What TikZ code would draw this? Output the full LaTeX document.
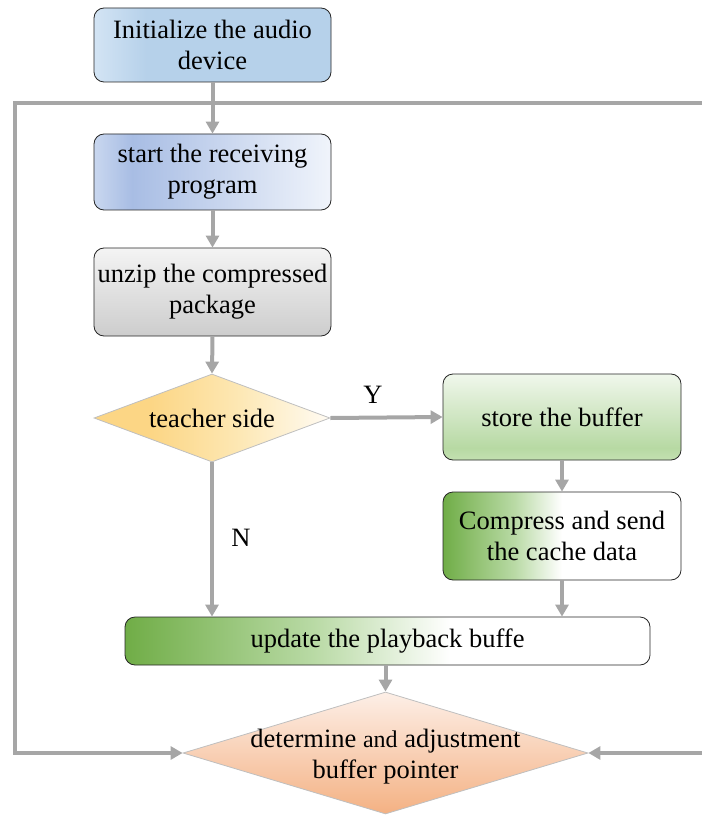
\documentclass[tikz,border=0pt]{standalone}
\usepackage{fontspec}
\newfontfamily\tnr{Liberation Serif}
\usetikzlibrary{arrows.meta,shapes.geometric}
\definecolor{ln}{HTML}{A6A6A6}
\definecolor{ia}{HTML}{D3E4F4}
\definecolor{ib}{HTML}{B6D1EA}
\definecolor{sa}{HTML}{C9D7EF}
\definecolor{sb}{HTML}{A8BDE4}
\definecolor{sc}{HTML}{F0F4FB}
\definecolor{ua}{HTML}{CDCDCD}
\definecolor{ub}{HTML}{E4E4E4}
\definecolor{uc}{HTML}{F4F4F4}
\definecolor{ta}{HTML}{FCD685}
\definecolor{tb}{HTML}{FDE7B2}
\definecolor{tc}{HTML}{FFFBF3}
\definecolor{ga}{HTML}{C3E0B1}
\definecolor{gb}{HTML}{B7D9A3}
\definecolor{gc}{HTML}{F0F7EC}
\definecolor{gr}{HTML}{70AD47}
\definecolor{gm}{HTML}{B9DAA5}
\definecolor{oa}{HTML}{F4B183}
\definecolor{ob}{HTML}{FDEFE7}
\pgfdeclarehorizontalshading{initsh}{100bp}{color(0bp)=(ia); color(25bp)=(ia); color(36bp)=(ib); color(100bp)=(ib)}
\pgfdeclarehorizontalshading{startsh}{100bp}{color(0bp)=(sa); color(25bp)=(sa); color(33bp)=(sb); color(75bp)=(sc); color(100bp)=(sc)}
\pgfdeclareverticalshading{unzipsh}{100bp}{color(0bp)=(ua); color(25bp)=(ua); color(55bp)=(ub); color(75bp)=(uc); color(100bp)=(uc)}
\pgfdeclarehorizontalshading{teachsh}{100bp}{color(0bp)=(ta); color(25bp)=(ta); color(37bp)=(ta); color(55bp)=(tb); color(75bp)=(tc); color(100bp)=(tc)}
\pgfdeclareverticalshading{storesh}{100bp}{color(0bp)=(ga); color(25bp)=(ga); color(32bp)=(gb); color(75bp)=(gc); color(100bp)=(gc)}
\pgfdeclarehorizontalshading{compsh}{100bp}{color(0bp)=(gr); color(25bp)=(gr); color(40bp)=(gm); color(50bp)=(white); color(100bp)=(white)}
\pgfdeclarehorizontalshading{updsh}{100bp}{color(0bp)=(gr); color(25bp)=(gr); color(43bp)=(gm); color(56bp)=(white); color(100bp)=(white)}
\pgfdeclareverticalshading{botsh}{100bp}{color(0bp)=(oa); color(25bp)=(oa); color(75bp)=(ob); color(100bp)=(ob)}
\tikzset{
  box/.style={draw=black!85, line width=0.8pt, rounded corners=10pt, align=center,
    inner sep=0pt, minimum width=237pt},
  dia/.style={diamond, draw=black!25, line width=0.8pt, inner sep=0pt, aspect=1},
  txt/.style={align=center, inner sep=0pt},
  flow/.style={draw=ln, line width=4pt, -{Triangle[length=12pt,width=13pt]}},
}
\begin{document}
\begin{tikzpicture}[x=1pt,y=-1pt, font=\tnr\fontsize{26.5}{31}\selectfont]
\useasboundingbox (0,0) rectangle (702,818);
\node[box, shading=initsh, minimum height=74pt] (init) at (212.5,45) {Initialize the audio\\device};
\node[box, shading=startsh, minimum height=76pt] (start) at (212.5,172) {start the receiving\\program};
\node[box, shading=unzipsh, minimum height=88pt] (unzip) at (212.5,292) {unzip the compressed\\package};
\node[dia, shading=teachsh, minimum width=236pt, minimum height=88pt] (teach) at (212,418) {};
\node[txt] (teachtxt) at (212,418) {teacher side};
\node[box, shading=storesh, minimum width=238pt, minimum height=86pt] (store) at (562,417) {store the buffer};
\node[box, shading=compsh, minimum width=238pt, minimum height=88pt] (comp) at (562,536) {Compress and send\\the cache data};
\node[box, shading=updsh, minimum width=525pt, minimum height=48pt] (upd) at (387.5,641) {update the playback buffe};
\node[dia, shading=botsh, minimum width=405pt, minimum height=122pt] (bot) at (385.5,753) {};
\node[txt] (bottxt) at (385.5,757) {determine {\fontsize{24}{31}\selectfont and} adjustment\\buffer pointer};
\node[txt] (ylab) at (373,395) {Y};
\node[txt] (nlab) at (241,538) {N};
\coordinate (tr) at (702,103);
\coordinate (tl) at (15,103);
\coordinate (bl) at (15,753);
\coordinate (br) at (702,753);
\draw[flow] (tr) -- (tl) -- (bl) -- (bot.west);
\draw[flow] (br) -- (bot.east);
\draw[flow] (init.south) -- (start.north);
\draw[flow] (start.south) -- (unzip.north);
\draw[flow] (unzip.south) -- (teach.north);
\draw[flow] (teach.east) -- (store.west);
\draw[flow] (store.south) -- (comp.north);
\draw[flow] (teach.south) -- (teach.south |- upd.north);
\draw[flow] (comp.south) -- (comp.south |- upd.north);
\draw[flow] (upd.south -| bot.north) -- (bot.north);
\end{tikzpicture}
\end{document}
